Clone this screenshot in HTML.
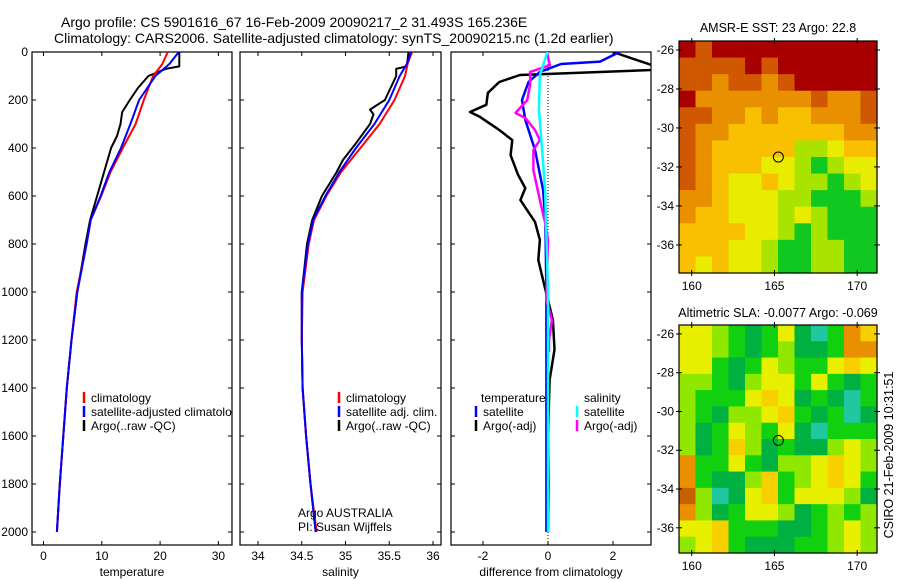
<!DOCTYPE html>
<html><head><meta charset="utf-8"><style>
html,body{margin:0;padding:0;background:#fff;}
svg{display:block;font-family:"Liberation Sans",sans-serif;}
text{fill:#000;}
</style></head><body>
<svg id="fig" width="900" height="580" viewBox="0 0 900 580" xmlns="http://www.w3.org/2000/svg">
<text x="61" y="27" font-size="14">Argo profile: CS 5901616_67 16-Feb-2009 20090217_2 31.493S 165.236E</text>
<text x="54" y="43" font-size="14">Climatology: CARS2006. Satellite-adjusted climatology: synTS_20090215.nc (1.2d earlier)</text>
<g id="plots"></g>
<text x="778" y="32" font-size="12.5" text-anchor="middle">AMSR-E SST: 23 Argo: 22.8</text>
<text x="778" y="317" font-size="12.5" text-anchor="middle">Altimetric SLA: -0.0077 Argo: -0.069</text>
<text transform="translate(893,455) rotate(-90)" font-size="12.5" text-anchor="middle">CSIRO 21-Feb-2009 10:31:51</text>
</svg>
<script>
// ---- depth grids ----
const depthStd = [0,50,100,200,300,400,500,600,700,800,1000,1200,1400,1600,1800,2000];
const tempClim = [21.3,20.4,18.8,17.2,15.8,13.6,11.5,9.9,8.1,7.4,5.7,4.8,4.0,3.4,2.8,2.3];
const tempSat  = [23.2,21.6,19.2,16.4,14.9,13.3,11.3,9.8,8.1,7.4,5.8,4.8,4.0,3.4,2.8,2.3];
const depthArgoT = [0,60,70,100,150,200,250,300,350,400,500,600,700,800,1000,1200,1400,1600,1800,2000];
const tempArgo  = [23.3,23.3,21.0,18.0,16.2,14.8,13.5,13.2,12.6,11.6,10.4,9.2,8.0,7.2,5.8,4.8,4.0,3.4,2.8,2.3];
const salClim = [35.76,35.71,35.68,35.56,35.39,35.17,34.95,34.78,34.64,34.58,34.51,34.50,34.51,34.55,34.60,34.67];
const salSat  = [35.75,35.70,35.62,35.50,35.33,35.12,34.93,34.77,34.63,34.57,34.50,34.50,34.51,34.55,34.60,34.66];
const depthArgoS = [0,60,70,100,200,240,260,300,380,450,500,600,700,800,1000,1200,1400,1600,1800,2000];
const salArgo  = [35.72,35.70,35.58,35.58,35.45,35.28,35.32,35.28,35.12,34.97,34.90,34.73,34.62,34.56,34.50,34.50,34.51,34.55,34.60,34.66];
const depthDiffT = [0,55,75,96,125,170,220,250,270,325,367,430,512,567,617,708,783,867,980,1033,1117,1240,1367,1600,1800,2000];
const diffArgoT = [2.0,3.2,3.2,-0.86,-1.5,-1.85,-1.9,-2.4,-2.1,-1.5,-1.1,-1.15,-0.92,-0.7,-0.85,-0.4,-0.25,-0.3,-0.1,0,0.15,0.2,0.05,0,0.02,0];
const depthDiffS = [0,40,50,83,125,200,283,408,575,700,1000,1200,1600,2000];
const diffSatT  = [2.2,1.6,0.4,-0.25,-0.6,-0.8,-0.7,-0.4,-0.15,-0.08,-0.05,-0.05,-0.05,-0.05];
const depthMag = [0,40,55,83,137,200,254,275,325,367,408,492,617,721,783,1033,1117,1200,1250];
const diffArgoS = [-0.03,0.03,0.06,-0.55,-0.55,-0.64,-1.0,-0.7,-0.4,-0.25,-0.45,-0.45,-0.25,-0.07,0,-0.05,0.12,0.03,0.03];
const depthCyan = [0,96,240,408,575,1000,2000];
const diffSatS = [-0.02,-0.25,-0.28,-0.18,-0.09,0,0.0];
const depthTicks = [0,200,400,600,800,1000,1200,1400,1600,1800,2000];
const tempTicks = [0,10,20,30];
const salTicks = [34,34.5,35,35.5,36];
const diffTicks = [-2,0,2];

// SST map levels (rows north->south, cols west->east)
const sstGrid = [
[6,5,6,6,6,6,6,6,6,6,6,6],[5,5,5,5,6,5,6,6,6,6,6,6],[5,5,4,5,5,4,5,6,6,6,6,6],
[6,4,4,4,4,4,4,4,5,4,4,5],[5,5,4,4,3,4,3,3,4,4,4,5],[5,4,4,3,3,3,3,3,3,3,4,4],
[5,4,3,3,3,3,3,1,1,2,3,3],[5,4,3,3,3,2,2,1,0,1,2,2],[5,4,3,2,2,3,2,1,1,0,1,2],
[4,4,3,2,2,2,1,1,0,0,0,1],[4,3,3,2,2,2,1,2,1,0,0,0],[3,3,3,3,2,2,1,0,1,0,0,0],
[3,3,3,2,2,1,0,0,1,1,0,0],[3,2,3,2,2,1,0,0,1,1,0,0]];
const slaGrid = [
[4,4,3,2,1,2,4,1,0,2,6,5],[4,4,3,2,1,2,3,1,1,2,6,6],[4,4,2,1,2,4,3,2,2,4,5,4],
[3,3,2,1,3,4,4,2,4,2,1,2],[3,2,2,2,4,5,4,1,2,1,0,2],[3,2,1,3,3,4,5,2,1,2,0,1],
[3,1,2,4,3,2,4,1,0,2,2,2],[3,1,2,5,3,1,2,1,1,3,4,3],[6,2,2,4,2,1,3,3,4,5,4,3],
[6,2,1,1,3,5,2,3,4,5,4,2],[7,3,0,1,4,5,2,4,4,4,3,1],[6,3,1,2,4,4,3,1,2,3,2,3],
[4,4,5,2,2,2,1,1,2,3,4,3],[3,4,5,2,1,1,1,2,2,3,4,3]];
const latTicks = [-26,-28,-30,-32,-34,-36];
const lonTicks = [160,165,170];
const argoLon = 165.236, argoLat = -31.493;

const NS='http://www.w3.org/2000/svg';
const root=document.getElementById('plots');
function mk(tag,attrs,parent){const e=document.createElementNS(NS,tag);for(const k in attrs)e.setAttribute(k,attrs[k]);(parent||root).appendChild(e);return e;}
function txt(x,y,s,size,anchor,parent){const t=mk('text',{x:x,y:y,'font-size':size,'text-anchor':anchor||'middle'},parent);t.textContent=s;return t;}

const yTop=52, yBot=545;
const yD = d => 52 + d*0.24;
const xT = v => 43.5 + v*5.83;
const xS = v => 258 + (v-34)*87.5;
const xDf = v => 548 + v*32.5;

function panel(name,x0,x1,ticks,xf,fmt,label){
  const g=mk('g',{});
  
  
  const r=mk('rect',{x:x0,y:yTop,width:x1-x0,height:yBot-yTop,fill:'#fff',stroke:'#000','stroke-width':1.2},g);
  
  
  depthTicks.forEach(d=>{const y=yD(d);mk('line',{x1:x0,x2:x0+4,y1:y,y2:y,stroke:'#000'},g);mk('line',{x1:x1-4,x2:x1,y1:y,y2:y,stroke:'#000'},g);});
  ticks.forEach(v=>{const x=xf(v);mk('line',{x1:x,x2:x,y1:yTop,y2:yTop+4,stroke:'#000'},g);mk('line',{x1:x,x2:x,y1:yBot-4,y2:yBot,stroke:'#000'},g);
    const t=txt(x,560,fmt(v),12,'middle',g);
    
    });
  const lt=txt((x0+x1)/2,576,label,12,'middle',g);
  
  
  return g;
}
function line(g,xs,ds,xf,color,w,name){
  const pts=xs.map((v,i)=>xf(v).toFixed(1)+','+yD(ds[i]).toFixed(1)).join(' ');
  const p=mk('polyline',{points:pts,fill:'none',stroke:color,'stroke-width':w,'stroke-linejoin':'round'},g);
  
  
}
function clipFor(id,x0,x1){const cp=mk('clipPath',{id:id});mk('rect',{x:x0,y:yTop,width:x1-x0,height:yBot-yTop},cp);}
function legend(g,x,y,color,label){
  mk('line',{x1:x,x2:x,y1:y-6,y2:y+5,stroke:color,'stroke-width':2.5},g);
  const t=txt(x+7,y+4,label,12,'start',g);
  
  
}

depthTicks.forEach(d=>{const t=txt(28,yD(d)+4,String(d),12,'end');
  
  });

const g1=panel('temperature-panel',32,232,tempTicks,xT,String,'temperature');
clipFor('c1',32,232);
const l1=mk('g',{'clip-path':'url(#c1)'},g1);
line(l1,tempArgo,depthArgoT,xT,'#000',2,'temp-argo-line');
line(l1,tempClim,depthStd,xT,'#f00',2,'temp-climatology-line');
line(l1,tempSat,depthStd,xT,'#00f',2,'temp-satellite-line');
const lg1=mk('g',{'clip-path':'url(#c1)'},g1);
legend(lg1,84,398,'#f00','climatology');
legend(lg1,84,412,'#00f','satellite-adjusted climatology');
legend(lg1,84,426,'#000','Argo(..raw -QC)');

const g2=panel('salinity-panel',240,441,salTicks,xS,String,'salinity');
clipFor('c2',240,441);
const l2=mk('g',{'clip-path':'url(#c2)'},g2);
line(l2,salArgo,depthArgoS,xS,'#000',2,'sal-argo-line');
line(l2,salClim,depthStd,xS,'#f00',2,'sal-climatology-line');
line(l2,salSat,depthStd,xS,'#00f',2,'sal-satellite-line');
legend(g2,339,398,'#f00','climatology');
legend(g2,339,412,'#00f','satellite adj. clim.');
legend(g2,339,426,'#000','Argo(..raw -QC)');
const a1=txt(298,517,'Argo AUSTRALIA',12,'start',g2);


const a2=txt(298,531,'PI: Susan Wijffels',12,'start',g2);



const g3=panel('difference-panel',451,651,diffTicks,xDf,String,'difference from climatology');
clipFor('c3',451,651);
const l3=mk('g',{'clip-path':'url(#c3)'},g3);
const zl=mk('line',{x1:xDf(0),x2:xDf(0),y1:yTop,y2:yBot,stroke:'#000','stroke-dasharray':'1,2'},l3);


line(l3,diffArgoT,depthDiffT,xDf,'#000',2.5,'diff-temp-argo-line');
line(l3,diffSatT,depthDiffS,xDf,'#00f',2.5,'diff-temp-satellite-line');
line(l3,diffArgoS,depthMag,xDf,'#f0f',2.5,'diff-sal-argo-line');
line(l3,diffSatS,depthCyan,xDf,'#0ff',2.5,'diff-sal-satellite-line');
const h1=txt(481,402,'temperature',12,'start',g3);


const h2=txt(584,402,'salinity',12,'start',g3);


legend(g3,476,412,'#00f','satellite');
legend(g3,476,426,'#000','Argo(-adj)');
legend(g3,577,412,'#0ff','satellite');
legend(g3,577,426,'#f0f','Argo(-adj)');

const sstColors=['#10c820','#a8e400','#e8ec00','#f8c000','#e89000','#d05800','#a80000'];
const slaColors=['#20c8a0','#00b040','#10d010','#90e800','#e8f000','#f8d000','#e89000','#c86000'];
function map(name,grid,colors,y0,y1,latTop,latBot){
  const x0=679,x1=877,lonL=159.23,lonR=171.2;
  const xm=v=>x0+(v-lonL)/(lonR-lonL)*(x1-x0);
  const ym=v=>y0+(latTop-v)/(latTop-latBot)*(y1-y0);
  const g=mk('g',{});
  
  
  const nr=grid.length,nc=grid[0].length;
  const cw=(x1-x0)/nc,ch=(y1-y0)/nr;
  grid.forEach((row,i)=>row.forEach((v,j)=>{
    const c=mk('rect',{x:(x0+j*cw).toFixed(2),y:(y0+i*ch).toFixed(2),width:(cw+0.6).toFixed(2),height:(ch+0.6).toFixed(2),fill:colors[v]},g);
    
    
  }));
  mk('rect',{x:x0,y:y0,width:x1-x0,height:y1-y0,fill:'none',stroke:'#000','stroke-width':1.2},g);
  latTicks.forEach(v=>{const y=ym(v);mk('line',{x1:x0-3,x2:x0+3,y1:y,y2:y,stroke:'#000'},g);mk('line',{x1:x1-3,x2:x1+3,y1:y,y2:y,stroke:'#000'},g);
    const t=txt(x0-5,y+4,String(v),12,'end',g);
    
    });
  lonTicks.forEach(v=>{const x=xm(v);mk('line',{x1:x,x2:x,y1:y0-3,y2:y0+3,stroke:'#000'},g);mk('line',{x1:x,x2:x,y1:y1-3,y2:y1+3,stroke:'#000'},g);
    const t=txt(x,y1+17,String(v),12,'middle',g);
    
    });
  const c=mk('circle',{cx:xm(argoLon),cy:ym(argoLat),r:5,fill:'none',stroke:'#000','stroke-width':1},g);
  
  
}
map('sst-map',sstGrid,sstColors,41,273,-25.54,-37.44);
map('sla-map',slaGrid,slaColors,325,553,-25.54,-37.3);
</script>
</body></html>
